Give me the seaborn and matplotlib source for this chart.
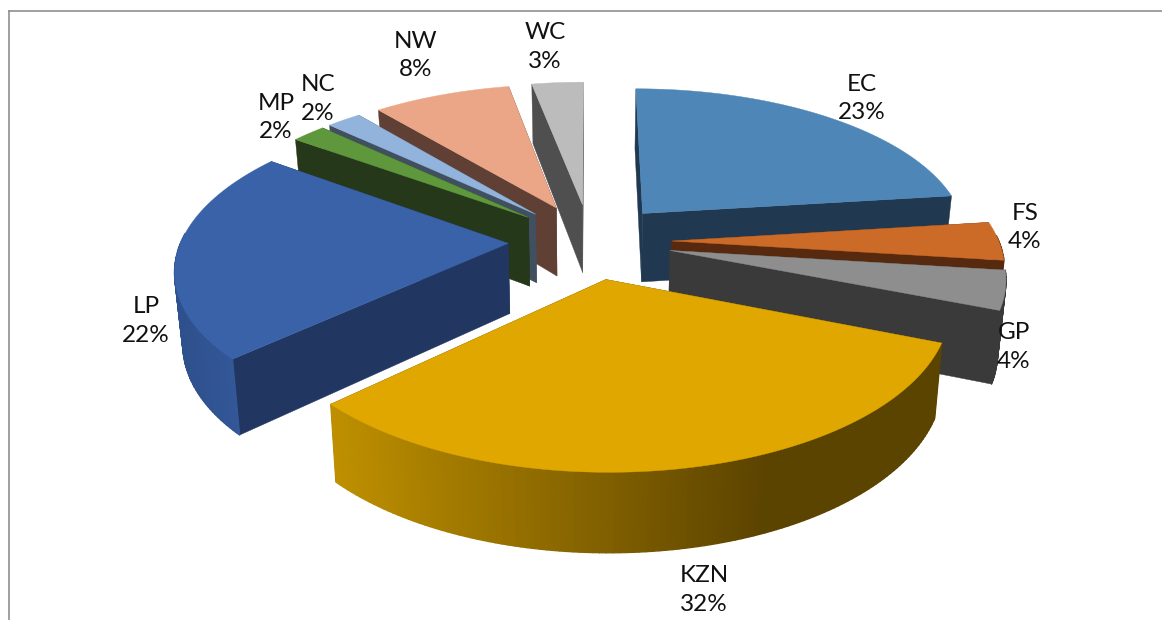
import numpy as np
import pandas as pd
import seaborn as sns
import matplotlib
matplotlib.use("Agg")
import matplotlib.pyplot as plt
from matplotlib.collections import PolyCollection
from matplotlib.colors import to_rgb

# Share of records per province, clockwise from twelve o'clock
provinces = ["EC", "FS", "GP", "KZN", "LP", "MP", "NC", "NW", "WC"]
shares = [23, 4, 4, 32, 22, 2, 2, 8, 3]

top_colors = ["#4f86b8", "#cc6a28", "#8e8e8e", "#dfa700", "#3a62a8",
              "#5e973c", "#92b4dc", "#eba587", "#bcbcbc"]
edge_colors = ["#203850", "#572a10", "#3a3a3a", "#5b4300", "#213661",
               "#26381a", "#415060", "#604034", "#4f4f4f"]
label_x = [862, 1025, 1014, 704, 146, 276, 318, 416, 545]
label_y = [98.5, 227.5, 347, 590, 321, 117.5, 99, 55.5, 47]

# Paint order, back to front
paint_order = ["WC", "NW", "NC", "MP", "LP", "EC", "FS", "GP", "KZN"]

# Projection of the tilted pie
CX, CY = 590.0, 241.0
RX, RY = 327.0, 151.0
PERSP = 0.15
EXPLODE = 0.25
DEPTH = 70.0
BASE_SHRINK = 0.98


def project(X, Y, lower=False):
    s = 1.0 / (1.0 + PERSP * Y)
    x = RX * X * s
    y = CY - RY * Y * s
    if lower:
        x = x * BASE_SHRINK
        y = y + DEPTH * (1.0 - 0.12 * Y)
    return CX + x, y


def shade(base, t):
    """Blend a slice's rim colour between its two tones."""
    first, second = base
    first, second = np.array(to_rgb(first)), np.array(to_rgb(second))
    return tuple(first + (second - first) * np.clip(t, 0, 1))


sns.set_theme(style="white")
plt.rcParams["font.family"] = ["Lato", "DejaVu Sans"]

df = pd.DataFrame({"province": provinces, "share": shares,
                   "top": sns.color_palette(top_colors),
                   "edge": sns.color_palette(edge_colors),
                   "lx": label_x, "ly": label_y})
fractions = df["share"] / df["share"].sum()
df["start"] = fractions.cumsum().shift(fill_value=0) * 2 * np.pi
df["end"] = fractions.cumsum() * 2 * np.pi
df = df.set_index("province")

fig = plt.figure(figsize=(11.62, 6.2), dpi=100, facecolor="white")
ax = fig.add_axes([0, 0, 1, 1])
ax.set_xlim(0, 1162)
ax.set_ylim(620, 0)
ax.axis("off")

# Rim shading: the tone reached at the far end and how soon it is reached
rim_tones = {"KZN": ("#bf9000", "#5b4300", 0.72), "LP": ("#2e508c", "#365b9e", 1.0)}

zorder = 2
for name in paint_order:
    row = df.loc[name]
    mid = (row["start"] + row["end"]) / 2
    ox, oy = EXPLODE * np.sin(mid), EXPLODE * np.cos(mid)
    n = max(int((row["end"] - row["start"]) * 60), 6)
    t = np.linspace(row["start"], row["end"], n)
    Xr, Yr = ox + np.sin(t), oy + np.cos(t)

    ax_top = project(np.r_[ox, Xr], np.r_[oy, Yr])
    ax_low = project(np.r_[ox, Xr], np.r_[oy, Yr], lower=True)

    # Two flat cut faces
    for idx in (1, -1):
        quad = [(ax_top[0][0], ax_top[1][0]), (ax_top[0][idx], ax_top[1][idx]),
                (ax_low[0][idx], ax_low[1][idx]), (ax_low[0][0], ax_low[1][0])]
        ax.fill(*zip(*quad), color=row["edge"], lw=0.3, zorder=zorder)

    # Curved rim facing the viewer, drawn as narrow shaded strips
    xt, yt = project(Xr, Yr)
    xb, yb = project(Xr, Yr, lower=True)
    quads, cols = [], []
    tone_a, tone_b, reach = rim_tones.get(name, (row["edge"], row["edge"], 1.0))
    x0, x1 = xt.min(), xt.max()
    for i in range(n - 1):
        if np.cos(t[i]) > 0.05:
            continue
        quads.append([(xt[i], yt[i]), (xt[i + 1], yt[i + 1]),
                      (xb[i + 1], yb[i + 1]), (xb[i], yb[i])])
        cols.append(shade((tone_a, tone_b), (xt[i] - x0) / max(reach * (x1 - x0), 1)))
    ax.add_collection(PolyCollection(quads, facecolors=cols, edgecolors=cols,
                                     linewidths=1.0, zorder=zorder + 0.1))

    # Upper surface
    ax.fill(ax_top[0], ax_top[1], color=row["top"], lw=0.3, zorder=zorder + 0.2)
    zorder += 1

    ax.text(row["lx"], row["ly"], f"{name}\n{row['share']}%", ha="center",
            va="center", fontsize=17.5, color="#111111", linespacing=1.45, zorder=30)

# Chart frame along the upper and left sides
ax.plot([8.5, 8.5], [620, 10.5], color="#868686", lw=1.1, zorder=1, solid_capstyle="projecting")
ax.plot([8.5, 1162], [10.5, 10.5], color="#868686", lw=1.1, zorder=1, solid_capstyle="projecting")

fig.savefig("out.png", dpi=100)
